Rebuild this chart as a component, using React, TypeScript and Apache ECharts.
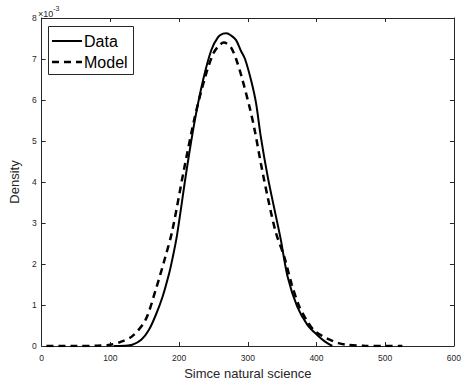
import React, { useEffect, useRef } from "react";
import * as echarts from "echarts";

// Density values are in units of 1e-3
const dataX = [105, 120, 132, 145, 156, 166, 176, 186, 190, 197, 211, 223, 235, 247, 257, 264, 269, 276, 283, 290, 296, 305, 312, 319, 329, 339, 348, 358, 372, 387, 401, 413, 423];
const dataY = [0, 0.005, 0.03, 0.15, 0.39, 0.75, 1.2, 1.8, 2.1, 2.7, 4.29, 5.51, 6.49, 7.22, 7.54, 7.62, 7.63, 7.57, 7.46, 7.2, 7.0, 6.47, 5.93, 5.1, 4.13, 3.32, 2.6, 1.69, 0.96, 0.51, 0.27, 0.1, 0];

const modelX = [7, 50, 80, 100, 115, 132, 151, 166, 180, 190, 207, 223, 238, 250, 259, 265, 270, 276, 283, 291, 303, 310, 319, 329, 341, 353, 364, 375, 386, 396, 408, 420, 432, 444, 470, 500, 525];
const modelY = [0, 0, 0.005, 0.03, 0.1, 0.24, 0.63, 1.37, 2.17, 2.8, 4.29, 5.59, 6.56, 7.14, 7.34, 7.4, 7.37, 7.27, 7.0, 6.57, 5.8, 5.27, 4.46, 3.63, 2.76, 2.18, 1.5, 0.96, 0.62, 0.39, 0.25, 0.15, 0.07, 0.03, 0.005, 0, 0];

const xTicks = [0, 100, 200, 300, 400, 500, 600];
const yTicks = [0, 1, 2, 3, 4, 5, 6, 7, 8];
const seriesNames = ["Data", "Model"];

const FONT = "'Liberation Sans', Arial, Helvetica, sans-serif";
const AX = "#262626";

export default function App() {
  const ref = useRef<HTMLDivElement>(null);
  useEffect(() => {
    if (!ref.current) return;
    const chart = echarts.init(ref.current, null, { renderer: "svg" });
    const axisCommon = {
      axisLine: { show: true, onZero: false, lineStyle: { color: AX, width: 1 } },
      axisTick: { show: true, inside: true, length: 4, lineStyle: { color: AX } },
      splitLine: { show: false },
    };
    chart.setOption({
      animation: false,
      backgroundColor: "#ffffff",
      grid: { left: 38, right: 9, top: 18, bottom: 39, containLabel: false },
      xAxis: [
        {
          type: "value",
          min: xTicks[0],
          max: xTicks[xTicks.length - 1],
          interval: 100,
          position: "bottom",
          name: "Simce natural science",
          nameLocation: "middle",
          nameGap: 20,
          nameTextStyle: { fontFamily: FONT, fontSize: 13, color: AX },
          axisLabel: { fontFamily: FONT, fontSize: 8.5, color: AX, margin: 7 },
          ...axisCommon,
        },
        {
          type: "value",
          min: xTicks[0],
          max: xTicks[xTicks.length - 1],
          interval: 100,
          position: "top",
          axisLabel: { show: false },
          ...axisCommon,
        },
      ],
      yAxis: [
        {
          type: "value",
          min: yTicks[0],
          max: yTicks[yTicks.length - 1],
          interval: 1,
          position: "left",
          name: "Density",
          nameLocation: "middle",
          nameGap: 14,
          nameTextStyle: { fontFamily: FONT, fontSize: 13, color: AX },
          axisLabel: { fontFamily: FONT, fontSize: 8.5, color: AX, margin: 5 },
          ...axisCommon,
        },
        {
          type: "value",
          min: yTicks[0],
          max: yTicks[yTicks.length - 1],
          interval: 1,
          position: "right",
          axisLabel: { show: false },
          ...axisCommon,
        },
      ],
      series: [
        {
          name: seriesNames[0],
          type: "line",
          data: dataX.map((x, i) => [x, dataY[i]]),
          showSymbol: false,
          smooth: 0.3,
          lineStyle: { color: "#000000", width: 2 },
          z: 3,
        },
        {
          name: seriesNames[1],
          type: "line",
          data: modelX.map((x, i) => [x, modelY[i]]),
          showSymbol: false,
          smooth: 0.3,
          lineStyle: { color: "#000000", width: 2.5, type: [7, 5] },
          z: 2,
        },
      ],
      graphic: [
        {
          type: "text",
          left: 38,
          top: 5,
          style: {
            text: "{b|×10}{s|-3}",
            rich: {
              b: { fontFamily: FONT, fontSize: 9, fill: AX, verticalAlign: "bottom" },
              s: { fontFamily: FONT, fontSize: 7, fill: AX, verticalAlign: "top", padding: [0, 0, 6, 0] },
            },
          },
        },
        {
          type: "rect",
          shape: { x: 48.5, y: 26.5, width: 85, height: 48 },
          style: { fill: "#ffffff", stroke: AX, lineWidth: 1 },
          z: 10,
        },
        {
          type: "line",
          shape: { x1: 52, y1: 41, x2: 82, y2: 41 },
          style: { stroke: "#000000", lineWidth: 2 },
          z: 11,
        },
        {
          type: "line",
          shape: { x1: 52, y1: 62, x2: 82, y2: 62 },
          style: { stroke: "#000000", lineWidth: 2.5, lineDash: [7, 5] },
          z: 11,
        },
        {
          type: "text",
          x: 84,
          y: 41,
          style: { text: seriesNames[0], fontFamily: FONT, fontSize: 16, fill: "#000000", verticalAlign: "middle" },
          z: 11,
        },
        {
          type: "text",
          x: 84,
          y: 62,
          style: { text: seriesNames[1], fontFamily: FONT, fontSize: 16, fill: "#000000", verticalAlign: "middle" },
          z: 11,
        },
      ],
    });
    return () => chart.dispose();
  }, []);
  return (
    <div
      ref={ref}
      style={{ position: "fixed", left: 0, top: 0, width: 464, height: 385, background: "#fff" }}
    />
  );
}
